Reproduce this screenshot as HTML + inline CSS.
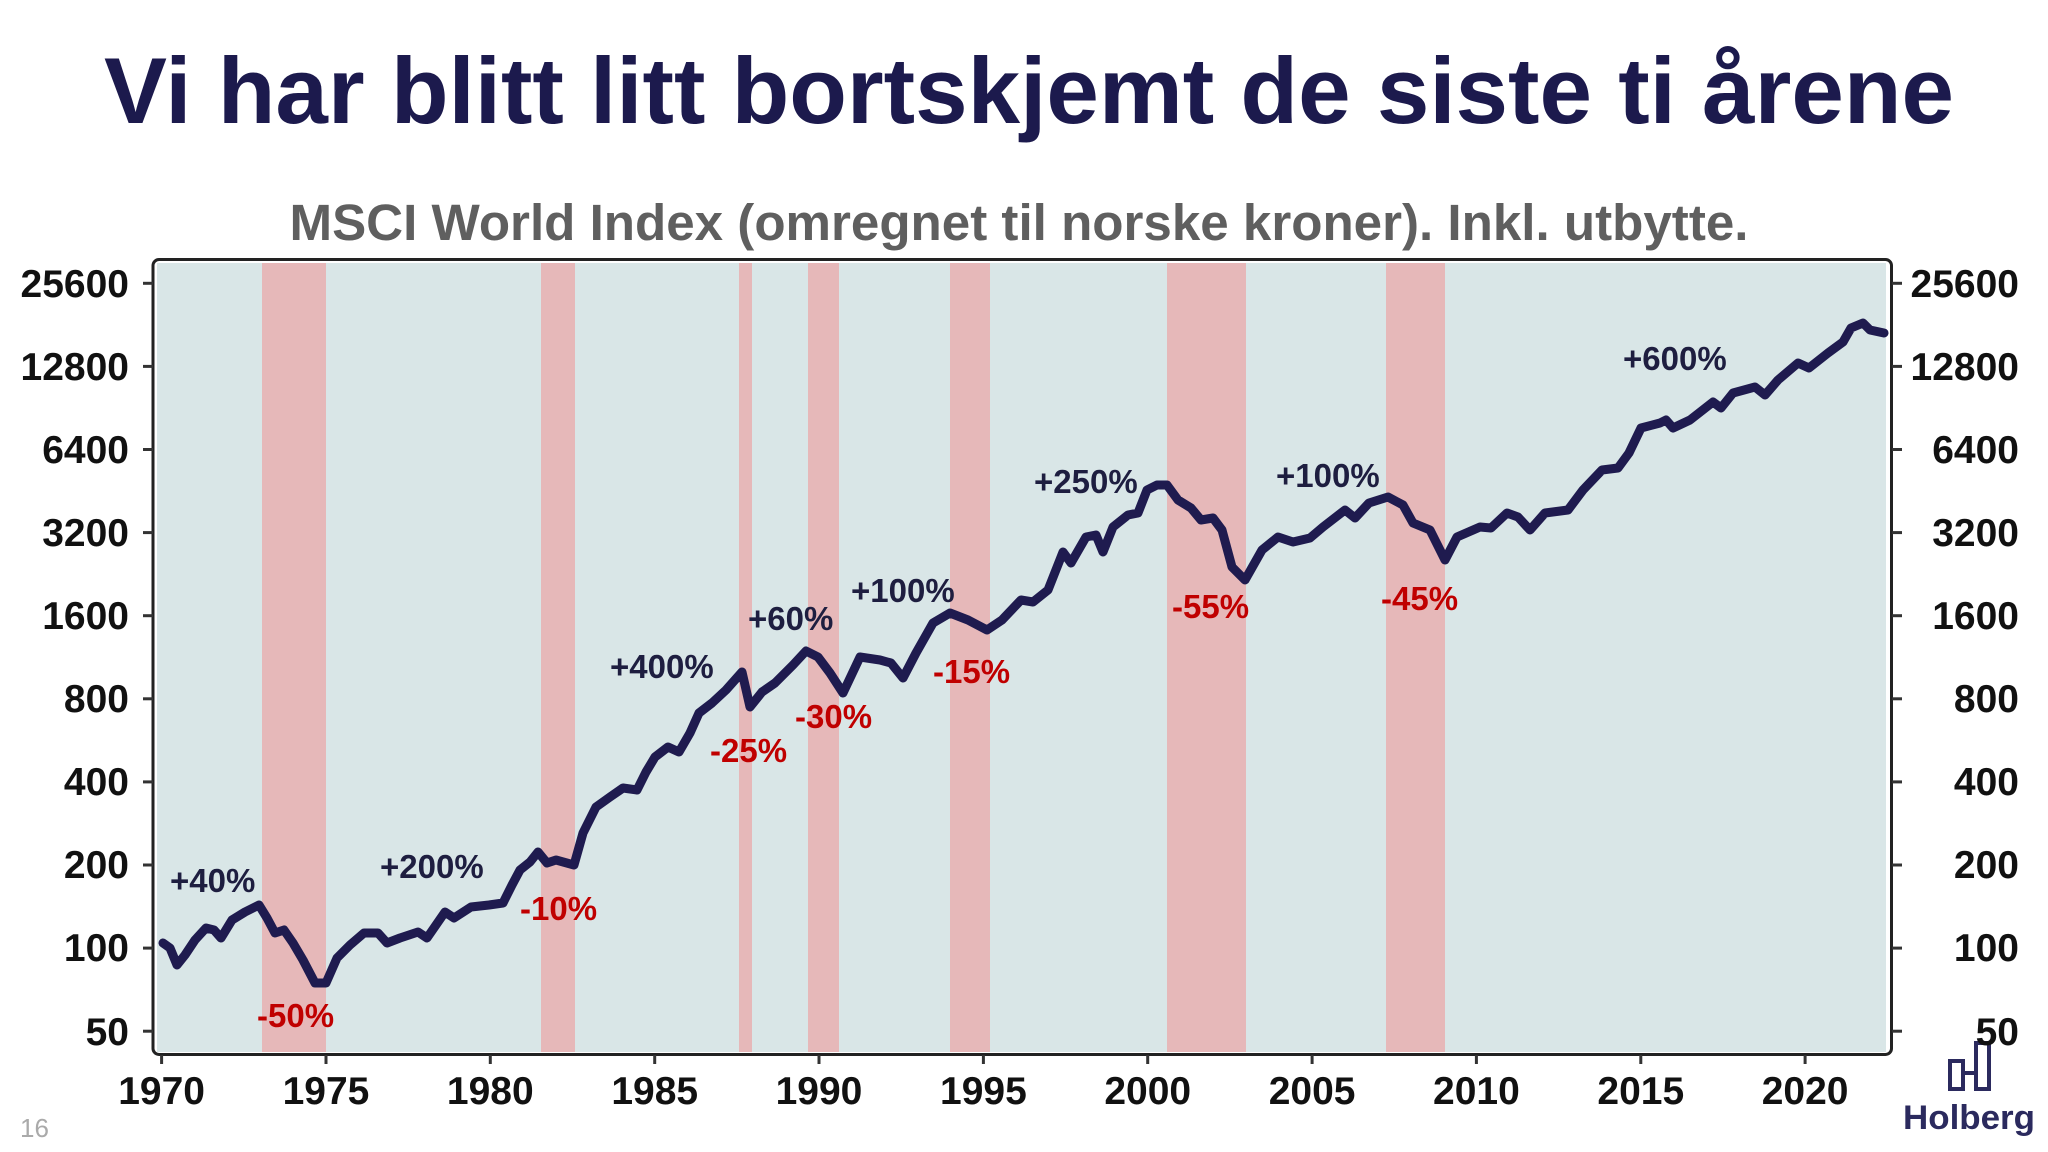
<!DOCTYPE html>
<html><head><meta charset="utf-8"><style>
html,body{margin:0;padding:0;background:#fff;}
svg{display:block;}
text{font-family:"Liberation Sans",Arial,sans-serif;}
</style></head><body>
<svg width="2048" height="1152" viewBox="0 0 2048 1152" xmlns="http://www.w3.org/2000/svg">
<rect width="2048" height="1152" fill="#fff"/>
<text x="1029" y="123" font-size="94" font-weight="bold" fill="#1c1a4d" text-anchor="middle" textLength="1850" lengthAdjust="spacingAndGlyphs">Vi har blitt litt bortskjemt de siste ti årene</text>
<text x="1019" y="240" font-size="51" font-weight="bold" fill="#5f5f5f" text-anchor="middle" textLength="1459" lengthAdjust="spacingAndGlyphs">MSCI World Index (omregnet til norske kroner). Inkl. utbytte.</text>

<!-- plot background -->
<rect x="157" y="263" width="1729" height="789" fill="#d9e6e7"/>
<g fill="#e6b8b9">
<rect x="262" y="263" width="64" height="789"/>
<rect x="541" y="263" width="34" height="789"/>
<rect x="739" y="263" width="13" height="789"/>
<rect x="808" y="263" width="31" height="789"/>
<rect x="950" y="263" width="40" height="789"/>
<rect x="1167" y="263" width="79" height="789"/>
<rect x="1386" y="263" width="59" height="789"/>
</g>
<rect x="153" y="259.5" width="1738.5" height="795" rx="6" fill="none" stroke="#222" stroke-width="3"/>

<!-- y ticks -->
<g stroke="#333" stroke-width="3">
<line x1="143" y1="283.3" x2="153" y2="283.3"/><line x1="1892" y1="283.3" x2="1902" y2="283.3"/>
<line x1="143" y1="366.4" x2="153" y2="366.4"/><line x1="1892" y1="366.4" x2="1902" y2="366.4"/>
<line x1="143" y1="449.5" x2="153" y2="449.5"/><line x1="1892" y1="449.5" x2="1902" y2="449.5"/>
<line x1="143" y1="532.6" x2="153" y2="532.6"/><line x1="1892" y1="532.6" x2="1902" y2="532.6"/>
<line x1="143" y1="615.7" x2="153" y2="615.7"/><line x1="1892" y1="615.7" x2="1902" y2="615.7"/>
<line x1="143" y1="698.8" x2="153" y2="698.8"/><line x1="1892" y1="698.8" x2="1902" y2="698.8"/>
<line x1="143" y1="781.9" x2="153" y2="781.9"/><line x1="1892" y1="781.9" x2="1902" y2="781.9"/>
<line x1="143" y1="865" x2="153" y2="865"/><line x1="1892" y1="865" x2="1902" y2="865"/>
<line x1="143" y1="948.1" x2="153" y2="948.1"/><line x1="1892" y1="948.1" x2="1902" y2="948.1"/>
<line x1="143" y1="1031.2" x2="153" y2="1031.2"/><line x1="1892" y1="1031.2" x2="1902" y2="1031.2"/>
</g>
<!-- x ticks -->
<g stroke="#333" stroke-width="3">
<line x1="161.6" y1="1055" x2="161.6" y2="1064"/>
<line x1="326" y1="1055" x2="326" y2="1064"/>
<line x1="490.3" y1="1055" x2="490.3" y2="1064"/>
<line x1="654.7" y1="1055" x2="654.7" y2="1064"/>
<line x1="819" y1="1055" x2="819" y2="1064"/>
<line x1="983.4" y1="1055" x2="983.4" y2="1064"/>
<line x1="1147.7" y1="1055" x2="1147.7" y2="1064"/>
<line x1="1312.1" y1="1055" x2="1312.1" y2="1064"/>
<line x1="1476.4" y1="1055" x2="1476.4" y2="1064"/>
<line x1="1640.8" y1="1055" x2="1640.8" y2="1064"/>
<line x1="1805.1" y1="1055" x2="1805.1" y2="1064"/>
</g>

<!-- y labels -->
<g font-size="39" font-weight="bold" fill="#111" text-anchor="end">
<text x="129" y="297">25600</text>
<text x="129" y="380">12800</text>
<text x="129" y="463">6400</text>
<text x="129" y="546">3200</text>
<text x="129" y="629">1600</text>
<text x="129" y="712">800</text>
<text x="129" y="795">400</text>
<text x="129" y="878">200</text>
<text x="129" y="961">100</text>
<text x="129" y="1045">50</text>
<text x="2019" y="297">25600</text>
<text x="2019" y="380">12800</text>
<text x="2019" y="463">6400</text>
<text x="2019" y="546">3200</text>
<text x="2019" y="629">1600</text>
<text x="2019" y="712">800</text>
<text x="2019" y="795">400</text>
<text x="2019" y="878">200</text>
<text x="2019" y="961">100</text>
</g>
<!-- x labels -->
<g font-size="39" font-weight="bold" fill="#111" text-anchor="middle">
<text x="161.6" y="1104">1970</text>
<text x="326" y="1104">1975</text>
<text x="490.3" y="1104">1980</text>
<text x="654.7" y="1104">1985</text>
<text x="819" y="1104">1990</text>
<text x="983.4" y="1104">1995</text>
<text x="1147.7" y="1104">2000</text>
<text x="1312.1" y="1104">2005</text>
<text x="1476.4" y="1104">2010</text>
<text x="1640.8" y="1104">2015</text>
<text x="1805.1" y="1104">2020</text>
</g>

<!-- series -->
<polyline fill="none" stroke="#1f1b4f" stroke-width="9" stroke-linejoin="round" stroke-linecap="round" points="
163,943 170,948 177,965 185,955 195,940 206,928 214,930 221,938 232,920 245,912 259,905 267,918 275,933 284,930 293,943 303,960 315,983 326,983 337,958 350,945 364,933 378,933 387,943 400,938 418,932 427,938 445,912 454,918 471,907 489,905 503,903 512,885 520,870 530,862 538,852 547,863 556,860 574,865 583,833 596,807 610,797 623,788 637,790 646,772 655,757 668,747 679,752 690,733 699,713 712,703 726,690 742,672 750,707 762,692 775,683 793,665 806,651 818,657 830,673 843,693 860,657 880,660 891,663 903,678 916,653 933,623 950,613 968,620 987,630 1002,620 1021,600 1033,602 1048,590 1063,552 1071,563 1086,537 1096,535 1103,552 1113,527 1128,515 1138,513 1147,490 1157,485 1167,485 1178,500 1191,508 1201,520 1213,518 1222,530 1232,567 1245,580 1262,550 1278,537 1293,542 1310,538 1323,527 1345,510 1355,518 1369,503 1388,497 1403,505 1413,523 1430,530 1445,560 1457,537 1480,527 1491,528 1507,513 1518,517 1530,530 1545,513 1568,510 1583,490 1602,470 1618,468 1629,453 1641,428 1660,423 1666,420 1673,428 1690,420 1713,402 1721,408 1733,393 1755,387 1765,395 1778,380 1798,363 1809,368 1828,353 1843,342 1851,328 1863,323 1870,330 1884,333"/>

<!-- annotations -->
<g font-size="33" font-weight="bold" fill="#1e1e40">
<text x="170" y="892">+40%</text>
<text x="380" y="878">+200%</text>
<text x="610" y="678">+400%</text>
<text x="748" y="630">+60%</text>
<text x="851" y="602">+100%</text>
<text x="1034" y="493">+250%</text>
<text x="1276" y="487">+100%</text>
<text x="1623" y="370">+600%</text>
</g>
<g font-size="33" font-weight="bold" fill="#c00000">
<text x="257" y="1027">-50%</text>
<text x="520" y="920">-10%</text>
<text x="710" y="762">-25%</text>
<text x="795" y="728">-30%</text>
<text x="933" y="683">-15%</text>
<text x="1172" y="618">-55%</text>
<text x="1381" y="610">-45%</text>
</g>

<!-- logo -->
<g fill="none" stroke="#2b2a5e" stroke-width="4">
<rect x="1950" y="1061" width="13" height="28"/>
<rect x="1976" y="1043" width="13" height="46"/>
<line x1="1963" y1="1073" x2="1976" y2="1073"/>
</g>
<text x="2019" y="1045" font-size="39" font-weight="bold" fill="#111" text-anchor="end">50</text>
<text x="1903" y="1129" font-size="34" font-weight="bold" fill="#2b2a5e" textLength="132" lengthAdjust="spacingAndGlyphs">Holberg</text>
<text x="20" y="1137" font-size="26" fill="#aaa">16</text>
</svg>
</body></html>
